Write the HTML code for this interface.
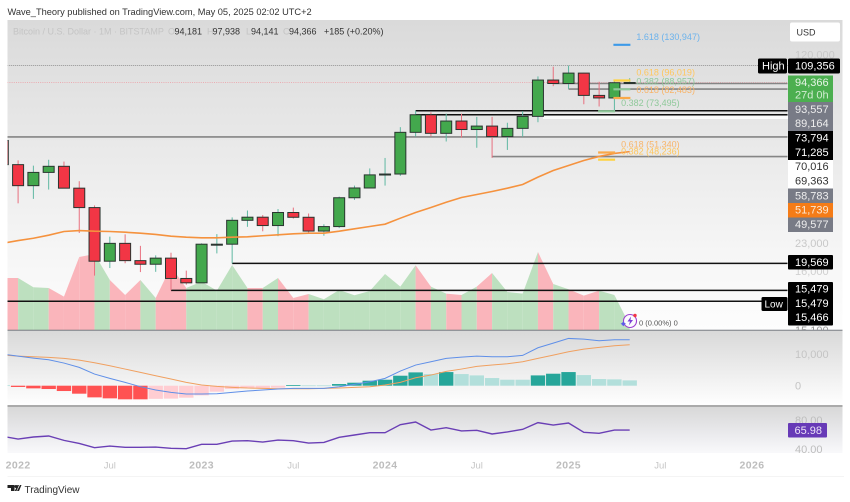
<!DOCTYPE html>
<html lang="en">
<head>
<meta charset="utf-8">
<title>Bitcoin / U.S. Dollar monthly chart</title>
<style>
html,body{margin:0;padding:0;background:#fff;width:850px;height:502px;overflow:hidden}
svg{display:block;font-family:"Liberation Sans",sans-serif;filter:blur(0.3px)}
</style>
</head>
<body>
<svg id="chart" width="850" height="502" viewBox="0 0 850 502" xmlns="http://www.w3.org/2000/svg">
  <defs>
    <linearGradient id="gMain" x1="0" y1="0" x2="0" y2="1">
      <stop offset="0" stop-color="#dadada"/><stop offset="0.4" stop-color="#e9e9e9"/><stop offset="0.75" stop-color="#f6f6f6"/><stop offset="1" stop-color="#fdfdfd"/>
    </linearGradient>
    <linearGradient id="gMacd" x1="0" y1="0" x2="0" y2="1">
      <stop offset="0" stop-color="#d9d9d9"/><stop offset="0.55" stop-color="#eeeeee"/><stop offset="1" stop-color="#ffffff"/>
    </linearGradient>
    <linearGradient id="gRsi" x1="0" y1="0" x2="0" y2="1">
      <stop offset="0" stop-color="#d8d8d8"/><stop offset="0.6" stop-color="#ebebee"/><stop offset="1" stop-color="#f9f9fb"/>
    </linearGradient>
    <clipPath id="clipMain"><rect x="7.5" y="20" width="780" height="310"/></clipPath>
    <clipPath id="clipLow"><rect x="7.5" y="331" width="780" height="122"/></clipPath>
    <clipPath id="clipAxis"><rect x="788" y="20" width="54" height="310"/></clipPath>
  </defs>

  <text x="7.5" y="15" font-size="9.25" fill="#333">Wave_Theory published on TradingView.com, May 05, 2025 02:02 UTC+2</text>

  <rect x="7.5" y="20" width="835" height="310" fill="url(#gMain)"/>
  <rect x="7.5" y="331" width="835" height="75" fill="url(#gMacd)"/>
  <rect x="7.5" y="407" width="835" height="46" fill="url(#gRsi)"/>
  <rect x="543" y="116" width="245" height="3" fill="#fbfbfb"/>

  <g id="volumeLayer" clip-path="url(#clipMain)"></g>
  <g id="levelLayer" clip-path="url(#clipMain)"></g>
  <g id="candleLayer" clip-path="url(#clipMain)"></g>
  <g id="maLayer" clip-path="url(#clipMain)"></g>
  <g id="fibLayer"></g>
  <g id="macdLayer" clip-path="url(#clipLow)"></g>
  <g id="rsiLayer" clip-path="url(#clipLow)"></g>

  <line x1="7.5" x2="842.5" y1="330.3" y2="330.3" stroke="#6f7278" stroke-width="1"/>
  <line x1="7.5" x2="842.5" y1="406" y2="406" stroke="#555" stroke-width="1"/>

  <g font-size="9">
    <text x="13" y="34.5" fill="#c4c4c4">Bitcoin / U.S. Dollar · 1M · BITSTAMP</text>
    <text x="168" y="34.5" fill="#c4c4c4">O</text><text x="174.5" y="34.5" fill="#333">94,181</text>
    <text x="207" y="34.5" fill="#c4c4c4">H</text><text x="212.5" y="34.5" fill="#333">97,938</text>
    <text x="246" y="34.5" fill="#c4c4c4">L</text><text x="251" y="34.5" fill="#333">94,141</text>
    <text x="283" y="34.5" fill="#c4c4c4">C</text><text x="289" y="34.5" fill="#333">94,366</text>
    <text x="324" y="34.5" fill="#333">+185 (+0.20%)</text>
  </g>

  <g>
    <rect x="790" y="22.5" width="50" height="19" rx="2" fill="#fff"/>
    <text x="796.5" y="35.5" font-size="9" fill="#333">USD</text>
  </g>

  <g font-size="11" clip-path="url(#clipAxis)">
    <text x="795" y="58.5" fill="#c8c8c8">120,000</text>
    <text x="795" y="247" fill="#c8c8c8">23,000</text>
    <text x="795" y="275" fill="#d0d0d0">16,000</text>
    <text x="795" y="334" fill="#999">15,100</text>
  </g>

  <g font-size="11" fill="#fff">
    <rect x="758" y="58.5" width="29" height="15" rx="1.5" fill="#000"/>
    <text x="762" y="69.5">High</text>
    <rect x="788" y="58.5" width="52" height="15" rx="1.5" fill="#000"/>
    <text x="795" y="69.5">109,356</text>

    <rect x="788" y="75.5" width="45" height="26.5" fill="#4caf50"/>
    <text x="795" y="86" fill="#e6f5e6">94,366</text>
    <text x="795" y="98.5" fill="#d2ecd2">27d 0h</text>

    <rect x="788" y="102" width="45" height="29" fill="#787b86"/>
    <text x="795" y="113" fill="#eee">93,557</text>
    <text x="795" y="127" fill="#eee">89,164</text>

    <rect x="788" y="131" width="45" height="29" fill="#000"/>
    <text x="795" y="141.5">73,794</text>
    <text x="795" y="156">71,285</text>

    <rect x="788" y="160" width="45" height="28.5" fill="#fff"/>
    <text x="795" y="170" fill="#333">70,016</text>
    <text x="795" y="184.5" fill="#333">69,363</text>

    <rect x="788" y="188.5" width="45" height="14.5" fill="#787b86"/>
    <text x="795" y="199.5" fill="#eee">58,783</text>
    <rect x="788" y="203" width="45" height="14.5" fill="#f57c17"/>
    <text x="795" y="213.5" fill="#fde9d4">51,739</text>
    <rect x="788" y="217.5" width="45" height="14.5" fill="#787b86"/>
    <text x="795" y="228" fill="#eee">49,577</text>

    <rect x="788" y="255" width="45" height="14.5" rx="1" fill="#000"/>
    <text x="795" y="266">19,569</text>

    <rect x="788" y="282" width="45" height="43.5" rx="1" fill="#000"/>
    <text x="795" y="292.5">15,479</text>
    <text x="795" y="307">15,479</text>
    <text x="795" y="321">15,466</text>
    <rect x="761.5" y="297" width="26" height="14" rx="1.5" fill="#000"/>
    <text x="764.5" y="307.5" font-size="10">Low</text>
  </g>

  <g>
    <circle cx="630" cy="321" r="6.5" fill="#fbfbfd" stroke="#9c3fd0" stroke-width="1.1"/>
    <polygon points="631,316.5 627.5,321.5 630,321.5 628.8,325.5 633,320 630.5,320" fill="#7c3fd6"/>
    <circle cx="635" cy="315.5" r="1.7" fill="#f23645"/>
    <polygon points="622,323 623.3,321.5 624.6,323 626,323.8 624.6,324.6 623.3,326.4 622,324.6 620.6,323.8" fill="#5b5be8"/>
  </g>
  <text x="639" y="325.5" font-size="7.5" fill="#555">0 (0.00%) 0</text>

  <g font-size="11" fill="#c4c4c4">
    <text x="795" y="358">10,000</text>
    <text x="795" y="389.5">0</text>
  </g>
  <g font-size="11">
    <text x="795" y="424" fill="#bdbdbd">80.00</text>
    <text x="795" y="453" fill="#bdbdbd">40.00</text>
    <rect x="788" y="423" width="39" height="14.5" rx="1" fill="#673ab7"/>
    <text x="794.5" y="434" fill="#ece4f7">65.98</text>
  </g>

  <g id="timeAxis"></g>
  <line x1="7.5" x2="844" y1="476.5" y2="476.5" stroke="#f4f4f4"/>

  <g>
    <g fill="#222">
      <polygon points="7.5,485 14.5,485 14.5,491 11,491 11,488 7.5,488"/>
      <circle cx="16" cy="486.5" r="1.5"/>
      <polygon points="17,491 20,485 21.5,485 19,491"/>
      <polygon points="14.8,491 17.5,485 19,485 16.5,491"/>
    </g>
    <text x="24.5" y="493" font-size="10" fill="#333">TradingView</text>
  </g>

<script>
// ---- chart data (monthly, Dec 2021 to May 2025) ----
var months = ['2021-12','2022-01','2022-02','2022-03','2022-04','2022-05','2022-06','2022-07','2022-08','2022-09','2022-10','2022-11','2022-12','2023-01','2023-02','2023-03','2023-04','2023-05','2023-06','2023-07','2023-08','2023-09','2023-10','2023-11','2023-12','2024-01','2024-02','2024-03','2024-04','2024-05','2024-06','2024-07','2024-08','2024-09','2024-10','2024-11','2024-12','2025-01','2025-02','2025-03','2025-04','2025-05'];
var opens  = [57000,46200,38480,43180,45530,37650,31800,19950,23300,20050,19430,20490,17170,16530,23130,23130,28470,29250,27200,30470,29230,25930,26960,34640,37710,42260,42580,61180,71285,60650,67500,62700,64600,58970,63330,70290,96400,93550,102400,84350,82500,94181];
var highs  = [59000,47950,45800,48200,47450,40000,32400,24700,25200,22800,20990,21480,18380,23300,25250,29200,31000,29800,31400,31800,30200,27500,35000,38500,44700,48970,64000,73794,72800,71950,71950,70000,70000,66500,73600,99500,108300,109356,102700,95000,95700,97938];
var lows   = [42000,33000,34300,37200,37600,25500,17600,18800,19600,18150,18190,15479,16270,16500,21350,19550,26900,25880,24800,28900,25400,24900,26600,34000,37600,38500,41900,59000,59100,56500,58400,53500,49000,52500,58900,66800,91400,89164,78100,76600,73500,94141];
var closes = [46200,38480,43180,45530,37650,31800,19950,23300,20050,19430,20490,17170,16530,23130,23130,28470,29250,27200,30470,29230,25930,26960,34640,37710,42260,42580,61180,71285,60650,67500,62700,64600,58970,63330,70290,96400,93550,102400,84350,82500,94181,94366];
var maValues = [23300,23880,24360,25020,25830,26050,25900,25830,25670,25450,25170,24790,24580,24460,24460,24580,24670,24890,25100,25320,25450,25450,25900,26440,26980,27530,29000,30480,31820,33320,34710,35630,36580,37640,38870,41440,43910,45840,47900,49610,50910,51739];
var volumeValues = [260,260,214,210,167,365,380,250,175,250,160,317,210,242,197,325,210,210,260,160,180,154,200,174,195,280,217,324,217,182,175,217,285,190,182,390,230,204,172,197,175,25];
var macdHist = [150,-400,-840,-1050,-1680,-2520,-3680,-3990,-4300,-4300,-4150,-4080,-3780,-3050,-1890,-1050,-850,-830,-630,210,105,105,525,945,1575,1890,3150,4200,3675,4300,3675,3250,2415,1890,1890,3250,3780,4300,3360,2100,2000,1680];
var macdLine = [9975,9345,8715,8190,7140,5775,3675,2310,1050,-315,-1365,-2100,-2625,-2625,-2520,-2100,-1680,-1365,-1050,-840,-840,-840,-315,420,1260,2310,4620,6510,7560,8610,9030,9345,9135,9135,9555,11970,13440,14910,14700,14175,14490,14490];
var macdSignal = [9660,9345,9135,8925,8610,8085,7245,6300,5250,4200,3150,2100,1050,210,-210,-525,-735,-840,-945,-945,-945,-840,-735,-525,-315,210,1050,2520,3360,4515,5250,6090,6510,6930,7560,8610,9660,10710,11550,12075,12600,12915];
var rsiValues = [57.2,53.5,56.3,57.7,51.6,47.4,41.4,43.7,41.9,41.9,42.3,40.5,40.0,46.1,46.1,50.7,51.2,49.3,52.1,51.2,47.9,48.8,55.8,59.1,62.3,62.3,73.5,77.2,66.0,69.3,64.7,65.6,60.5,63.3,67.0,76.3,73.0,75.8,62.8,61.4,66.0,66.0];
var levelPrices = [109356,94366,93557,89164,73794,71285,58783,49577,19569,15479,14080];
var levelStart  = [0,0,36,37,27,27,0,32,15,11,0];
var levelKinds  = ['dotted','pink','grey','grey','black','black','grey','grey','black','black','black'];
var fibPrices = [130947,96019,88957,82483,73495,51340,48236];
var fibStart  = [40,40,40,40,39,39,39];
var fibNames  = ['1.618','0.618','0.382','0.618','0.382','0.618','0.382'];
var fibLabels = ['1.618 (130,947)','0.618 (96,019)','0.382 (88,957)','0.618 (82,483)','0.382 (73,495)','0.618 (51,340)','0.382 (48,236)'];
var fibKinds  = ['blue','yellow','green','orange','green','orange','yellow'];
var timeLabels = ['2022','Jul','2023','Jul','2024','Jul','2025','Jul','2026'];
var timeTickIndex = [1,7,13,19,25,31,37,43,49];

// ---- axis functions ----
function xAt(i){ return 2.8 + 15.29 * i; }
function priceY(p){ return 82.5 + 115 * Math.log(94366 / p); }
function volumeY(v){ return 330 - v * 0.2; }
function macdY(v){ return 385.7 - v * 0.00317; }
function rsiY(v){ return 420 + (80 - v) * 0.7175; }

var NS = 'http://www.w3.org/2000/svg';
function make(tag, parent, attrs){
  var el = document.createElementNS(NS, tag);
  for (var k in attrs) el.setAttribute(k, attrs[k]);
  parent.appendChild(el);
  return el;
}
function pathFrom(values, yFn){
  return values.map(function(v, i){ return (i ? 'L' : 'M') + xAt(i).toFixed(2) + ' ' + yFn(v).toFixed(2); }).join(' ');
}

// volume area, one segment per month, coloured by the closing candle
var volumeLayer = document.getElementById('volumeLayer');
for (var i = 1; i < volumeValues.length; i++) {
  var up = closes[i] >= opens[i];
  var pts = [xAt(i-1)+','+volumeY(volumeValues[i-1]), xAt(i)+','+volumeY(volumeValues[i]), xAt(i)+',330', xAt(i-1)+',330'].join(' ');
  var seg = make('polygon', volumeLayer, {points: pts, fill: up ? '#bde0bf' : '#fab5bb'});
  
  
}

// horizontal price levels
var levelLayer = document.getElementById('levelLayer');
var levelStyle = {
  dotted: {stroke: '#8a8a8a', w: 0.9, dash: '1 1'},
  pink:   {stroke: '#ee9aa2', w: 0.8, dash: '1 1.2'},
  grey:   {stroke: '#858585', w: 1.6, dash: 'none'},
  black:  {stroke: '#111111', w: 1.5, dash: 'none'}
};
levelPrices.forEach(function(p, i){
  var s = levelStyle[levelKinds[i]];
  var y = priceY(p);
  var ln = make('line', levelLayer, {x1: xAt(levelStart[i]), x2: 787.5, y1: y, y2: y, stroke: s.stroke, 'stroke-width': s.w, 'stroke-dasharray': s.dash});
  
  
});

// candles
var candleLayer = document.getElementById('candleLayer');
months.forEach(function(m, i){
  var up = closes[i] >= opens[i];
  var cx = xAt(i);
  var wick = make('line', candleLayer, {x1: cx, x2: cx, y1: priceY(highs[i]), y2: priceY(lows[i]), stroke: up ? '#5fb8a2' : '#e8707f', 'stroke-width': 1});
  
  
  var yTop = priceY(Math.max(opens[i], closes[i]));
  var yBot = priceY(Math.min(opens[i], closes[i]));
  var body = make('rect', candleLayer, {x: cx - 5.5, y: yTop, width: 11, height: Math.max(yBot - yTop, 1), fill: up ? '#43a84d' : '#f23645', stroke: '#2a3530', 'stroke-width': 1});
  
  
});

// moving average
var maLine = make('path', document.getElementById('maLayer'), {d: pathFrom(maValues, priceY), fill: 'none', stroke: '#f5923e', 'stroke-width': 1.6});



// fibonacci markers
var fibLayer = document.getElementById('fibLayer');
var fibLine = {blue: '#3d9ae8', yellow: '#ffd23f', green: '#8fc79a', orange: '#f9a94a'};
var fibText = {blue: '#6db3ec', yellow: '#ffc65c', green: '#8fc99a', orange: '#f8b469'};
fibPrices.forEach(function(p, i){
  var y = priceY(p);
  var x0 = xAt(fibStart[i]) - 1;
  var x1 = x0 + 17;
  var ln = make('line', fibLayer, {x1: x0, x2: x1, y1: y, y2: y, stroke: fibLine[fibKinds[i]], 'stroke-width': 2.2});
  
  
  var t = make('text', fibLayer, {x: x1 + 6, y: y - 5, 'font-size': 9, fill: fibText[fibKinds[i]]});
  t.textContent = fibLabels[i];
  
  
});

// MACD
var macdLayer = document.getElementById('macdLayer');
macdHist.forEach(function(v, i){
  var prev = i ? macdHist[i-1] : v;
  var rising = v > prev;
  var col = v >= 0 ? (rising ? '#26a69a' : '#b2dfdb') : (rising ? '#ffcdd2' : '#ff5252');
  var y0 = macdY(0), y1 = macdY(v);
  var bar = make('rect', macdLayer, {x: xAt(i) - 7.2, y: Math.min(y0, y1), width: 14.4, height: Math.max(Math.abs(y1 - y0), 0.8), fill: col});
  
  
});
var signalPath = make('path', macdLayer, {d: pathFrom(macdSignal, macdY), fill: 'none', stroke: '#f0a060', 'stroke-width': 1});


var macdPath = make('path', macdLayer, {d: pathFrom(macdLine, macdY), fill: 'none', stroke: '#5f8fe8', 'stroke-width': 1});



// RSI
var rsiPath = make('path', document.getElementById('rsiLayer'), {d: pathFrom(rsiValues, rsiY), fill: 'none', stroke: '#6a3fb5', 'stroke-width': 1.4});



// time axis
var timeAxis = document.getElementById('timeAxis');
timeLabels.forEach(function(label, i){
  var isYear = label !== 'Jul';
  var t = make('text', timeAxis, {x: xAt(timeTickIndex[i]), y: 468.5, 'font-size': isYear ? 10.5 : 9.5, 'font-weight': isYear ? 'bold' : 'normal', 'text-anchor': 'middle', fill: isYear ? '#bdbdbd' : '#c6c6c6', 'letter-spacing': isYear ? 0.4 : 0});
  t.textContent = label;
  
  
});
</script>
</svg>
</body>
</html>
